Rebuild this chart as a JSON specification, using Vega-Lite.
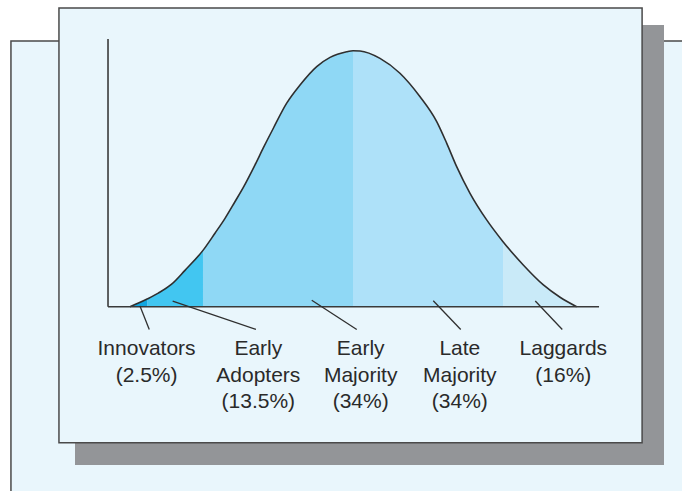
{
  "$schema": "https://vega.github.io/schema/vega-lite/v6.json",
  "width": 682,
  "height": 491,
  "autosize": {"type": "fit", "contains": "padding"},
  "padding": 0,
  "background": "#ffffff",
  "config": {"view": {"stroke": null}},
  "datasets": {
    "decor": [{}],
    "curve": [
      {"seg": "Innovators", "x": -1.487, "y": 0, "dup": 0},
      {"seg": "Innovators", "x": -1.43, "y": 1.4, "dup": 0},
      {"seg": "Innovators", "x": -1.369, "y": 3.1, "dup": 0},
      {"seg": "Early Adopters", "x": -1.369, "y": 3.1, "dup": 1},
      {"seg": "Early Adopters", "x": -1.298, "y": 5.3, "dup": 0},
      {"seg": "Early Adopters", "x": -1.209, "y": 8.8, "dup": 0},
      {"seg": "Early Adopters", "x": -1.12, "y": 14.2, "dup": 0},
      {"seg": "Early Adopters", "x": -1.0, "y": 22.0, "dup": 0},
      {"seg": "Early Majority", "x": -1.0, "y": 22.0, "dup": 1},
      {"seg": "Early Majority", "x": -0.92, "y": 28.7, "dup": 0},
      {"seg": "Early Majority", "x": -0.853, "y": 34.5, "dup": 0},
      {"seg": "Early Majority", "x": -0.787, "y": 41.0, "dup": 0},
      {"seg": "Early Majority", "x": -0.731, "y": 46.6, "dup": 0},
      {"seg": "Early Majority", "x": -0.653, "y": 55.4, "dup": 0},
      {"seg": "Early Majority", "x": -0.598, "y": 62.0, "dup": 0},
      {"seg": "Early Majority", "x": -0.531, "y": 69.7, "dup": 0},
      {"seg": "Early Majority", "x": -0.442, "y": 79.5, "dup": 0},
      {"seg": "Early Majority", "x": -0.353, "y": 86.6, "dup": 0},
      {"seg": "Early Majority", "x": -0.242, "y": 93.8, "dup": 0},
      {"seg": "Early Majority", "x": -0.153, "y": 97.4, "dup": 0},
      {"seg": "Early Majority", "x": -0.042, "y": 99.6, "dup": 0},
      {"seg": "Early Majority", "x": 0, "y": 100, "dup": 0},
      {"seg": "Late Majority", "x": 0, "y": 100, "dup": 1},
      {"seg": "Late Majority", "x": 0.047, "y": 99.9, "dup": 0},
      {"seg": "Late Majority", "x": 0.18, "y": 97.0, "dup": 0},
      {"seg": "Late Majority", "x": 0.313, "y": 91.2, "dup": 0},
      {"seg": "Late Majority", "x": 0.447, "y": 82.0, "dup": 0},
      {"seg": "Late Majority", "x": 0.558, "y": 72.3, "dup": 0},
      {"seg": "Late Majority", "x": 0.625, "y": 63.8, "dup": 0},
      {"seg": "Late Majority", "x": 0.691, "y": 54.7, "dup": 0},
      {"seg": "Late Majority", "x": 0.78, "y": 44.3, "dup": 0},
      {"seg": "Late Majority", "x": 0.891, "y": 33.9, "dup": 0},
      {"seg": "Late Majority", "x": 1.0, "y": 25.4, "dup": 0},
      {"seg": "Laggards", "x": 1.0, "y": 25.4, "dup": 1},
      {"seg": "Laggards", "x": 1.135, "y": 16.3, "dup": 0},
      {"seg": "Laggards", "x": 1.269, "y": 8.5, "dup": 0},
      {"seg": "Laggards", "x": 1.38, "y": 3.7, "dup": 0},
      {"seg": "Laggards", "x": 1.491, "y": 0, "dup": 0}
    ],
    "labels": [
      {"seg": "Innovators", "text": "Innovators\n(2.5%)", "share": 2.5, "lx": -1.376, "px": -1.42, "py": 0.3, "qx": -1.358},
      {"seg": "Early Adopters", "text": "Early\nAdopters\n(13.5%)", "share": 13.5, "lx": -0.631, "px": -1.202, "py": 2.2, "qx": -0.647},
      {"seg": "Early Majority", "text": "Early\nMajority\n(34%)", "share": 34, "lx": 0.051, "px": -0.275, "py": 2.5, "qx": 0.025},
      {"seg": "Late Majority", "text": "Late\nMajority\n(34%)", "share": 34, "lx": 0.712, "px": 0.535, "py": 2.3, "qx": 0.718},
      {"seg": "Laggards", "text": "Laggards\n(16%)", "share": 16, "lx": 1.402, "px": 1.215, "py": 2.2, "qx": 1.395}
    ]
  },
  "layer": [
    {
      "data": {"name": "decor"},
      "mark": {"type": "rect", "fill": "#e9f6fc", "stroke": "#4a4a4a", "strokeWidth": 1.5, "clip": true},
      "encoding": {
        "x": {"datum": -2.28, "type": "quantitative", "scale": {"domain": [-2.353, 2.193], "nice": false, "zero": false}, "axis": null},
        "x2": {"datum": 2.5},
        "y": {"datum": 103.8, "type": "quantitative", "scale": {"domain": [-72, 119.8], "nice": false, "zero": false}, "axis": null},
        "y2": {"datum": -90}
      }
    },
    {
      "data": {"name": "decor"},
      "mark": {"type": "rect", "fill": "#939598", "clip": true},
      "encoding": {
        "x": {"datum": -1.853, "type": "quantitative", "axis": null},
        "x2": {"datum": 2.073},
        "y": {"datum": 110.0, "type": "quantitative", "axis": null},
        "y2": {"datum": -61.8}
      }
    },
    {
      "data": {"name": "decor"},
      "mark": {"type": "rect", "fill": "#e9f6fc", "stroke": "#4a4a4a", "strokeWidth": 1.5, "clip": true},
      "encoding": {
        "x": {"datum": -1.96, "type": "quantitative", "axis": null},
        "x2": {"datum": 1.927},
        "y": {"datum": 116.7, "type": "quantitative", "axis": null},
        "y2": {"datum": -53.2}
      }
    },
    {
      "data": {"name": "curve"},
      "mark": {"type": "area", "interpolate": "monotone"},
      "encoding": {
        "x": {"field": "x", "type": "quantitative", "axis": null},
        "y": {"field": "y", "type": "quantitative", "stack": null, "axis": null},
        "y2": {"datum": 0},
        "color": {
          "field": "seg", "type": "nominal", "legend": null,
          "scale": {
            "domain": ["Innovators", "Early Adopters", "Early Majority", "Late Majority", "Laggards"],
            "range": ["#11a6e0", "#42c6f1", "#8fd8f5", "#aee1f9", "#c9eaf8"]
          }
        }
      }
    },
    {
      "data": {"name": "curve"},
      "transform": [{"filter": "datum.dup == 0"}],
      "mark": {"type": "line", "interpolate": "monotone", "stroke": "#2f2f2f", "strokeWidth": 1.6},
      "encoding": {
        "x": {"field": "x", "type": "quantitative", "axis": null},
        "y": {"field": "y", "type": "quantitative", "axis": null}
      }
    },
    {
      "data": {"name": "decor"},
      "mark": {"type": "rule", "stroke": "#3a3a3a", "strokeWidth": 1.6},
      "encoding": {
        "x": {"datum": -1.633, "type": "quantitative", "axis": null},
        "y": {"datum": 0, "type": "quantitative", "axis": null},
        "y2": {"datum": 104.6}
      }
    },
    {
      "data": {"name": "decor"},
      "mark": {"type": "rule", "stroke": "#3a3a3a", "strokeWidth": 1.6},
      "encoding": {
        "x": {"datum": -1.633, "type": "quantitative", "axis": null},
        "x2": {"datum": 1.64},
        "y": {"datum": 0, "type": "quantitative", "axis": null}
      }
    },
    {
      "data": {"name": "labels"},
      "mark": {"type": "rule", "stroke": "#2f2f2f", "strokeWidth": 1.3},
      "encoding": {
        "x": {"field": "px", "type": "quantitative", "axis": null},
        "y": {"field": "py", "type": "quantitative", "axis": null},
        "x2": {"field": "qx"},
        "y2": {"datum": -8.9}
      }
    },
    {
      "data": {"name": "labels"},
      "mark": {"type": "text", "font": "Liberation Sans", "fontSize": 21, "color": "#2a2a2a", "align": "center", "baseline": "alphabetic", "lineBreak": "\n", "lineHeight": 26.7},
      "encoding": {
        "x": {"field": "lx", "type": "quantitative", "axis": null},
        "y": {"datum": -18.9, "type": "quantitative", "axis": null},
        "text": {"field": "text"}
      }
    }
  ]
}
